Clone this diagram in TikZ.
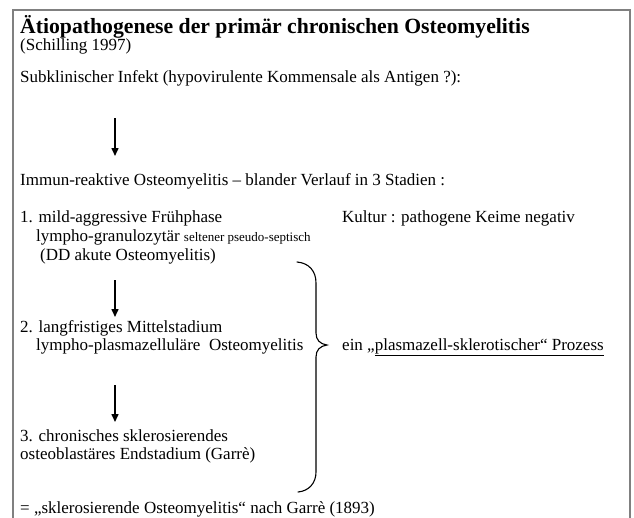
\documentclass[tikz,border=0pt]{standalone}
\usepackage{fontspec}
\setmainfont{Liberation Serif}
\usetikzlibrary{arrows.meta}
\tikzset{
  txt/.style={anchor=base west, inner sep=0pt, font=\fontsize{17}{19}\selectfont},
  flowarrow/.style={-{Triangle[length=8pt,width=7pt]}, line width=1.5pt},
  bracestyle/.style={line width=1.1pt, line cap=round},
  frame/.style={draw=black!50, line width=2pt}
}
\begin{document}
\begin{tikzpicture}[x=1pt,y=-1pt]
\useasboundingbox (0,0) rectangle (634,517);
\draw[frame] (13,530) -- (13,10) -- (630,10) -- (630,530);
\node[txt, font=\bfseries\fontsize{21.7}{24}\selectfont] (title) at (20,33) {Ätiopathogenese der primär chronischen Osteomyelitis};
\node[txt] (src) at (20,50) {(Schilling 1997)};
\node[txt] (infekt) at (20,82) {Subklinischer Infekt (hypovirulente Kommensale als Antigen ?):};
\coordinate (a1s) at (115,118);
\coordinate (a1e) at (115,156);
\draw[flowarrow] (a1s) -- (a1e);
\node[txt] (immun) at (20,185) {Immun-reaktive Osteomyelitis – blander Verlauf in 3 Stadien :};
\node[txt] (s1) at (20,222) {1. mild-aggressive Frühphase};
\node[txt] (kultur) at (342,222) {Kultur : pathogene Keime negativ};
\node[txt] (s1b) at (36,241) {lympho-granulozytär {\fontsize{13}{15}\selectfont seltener pseudo-septisch}};
\node[txt] (s1c) at (40,260) {(DD akute Osteomyelitis)};
\coordinate (a2s) at (115,280);
\coordinate (a2e) at (115,317);
\draw[flowarrow] (a2s) -- (a2e);
\node[txt] (s2) at (20,332) {2. langfristiges Mittelstadium};
\node[txt] (s2b) at (36,350) {lympho-plasmazelluläre \ Osteomyelitis};
\node[txt] (ein) at (342,350) {ein „\underline{plasmazell-sklerotischer“ Prozess}};
\coordinate (a3s) at (115,385);
\coordinate (a3e) at (115,422);
\draw[flowarrow] (a3s) -- (a3e);
\node[txt] (s3) at (20,441) {3. chronisches sklerosierendes};
\node[txt] (s3b) at (20,459) {osteoblastäres Endstadium (Garrè)};
\node[txt] (garre) at (20,513) {= „sklerosierende Osteomyelitis“ nach Garrè (1893)};
% brace
\coordinate (bt) at (297,262);
\coordinate (bm) at (327,345);
\coordinate (bb) at (298,492);
\draw[bracestyle] (bt) .. controls (309,263) and (316,271) .. (316,283)
  -- (316,333) .. controls (316,340) and (320,344) .. (bm)
  .. controls (320,346) and (316,350) .. (316,357)
  -- (316,472) .. controls (316,483) and (309,491) .. (bb);
\end{tikzpicture}
\end{document}
